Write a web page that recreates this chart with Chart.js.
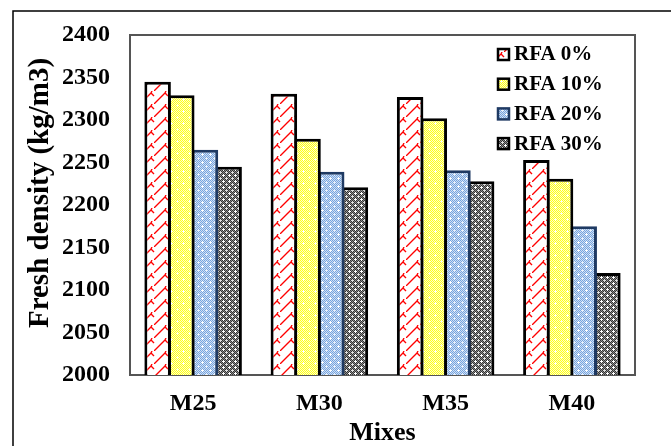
<!DOCTYPE html>
<html>
<head>
<meta charset="utf-8">
<script src="https://cdn.jsdelivr.net/npm/chart.js@4/dist/chart.umd.min.js"></script>
<style>
  html, body { margin: 0; padding: 0; background: #fff; }
  #wrap { width: 671px; height: 446px; }
</style>
</head>
<body>
<div id="wrap"><canvas id="c" width="671" height="446"></canvas></div>
<script>
// Fresh density of mixes by recycled fine aggregate (RFA) replacement
const mixes = ['M25', 'M30', 'M35', 'M40'];
const seriesLabels = ['RFA 0%', 'RFA 10%', 'RFA 20%', 'RFA 30%'];
const rfa0  = [2345, 2331, 2327, 2253];
const rfa10 = [2329, 2278, 2302, 2231];
const rfa20 = [2265, 2239, 2241, 2175];
const rfa30 = [2245, 2221, 2228, 2120];
const yMin = 2000, yMax = 2400, yStep = 50;
const yTitle = 'Fresh density (kg/m3)';
const xTitle = 'Mixes';

const FONT = "'Liberation Serif', 'Times New Roman', serif";

// small repeating tiles used as bar fills
function tile(w, h, paint) {
  const cv = document.createElement('canvas');
  cv.width = w; cv.height = h;
  const g = cv.getContext('2d');
  paint(g, w, h);
  return document.getElementById('c').getContext('2d').createPattern(cv, 'repeat');
}
function checker(g, w, h, a, b, s) {
  for (let y = 0; y < h; y += s)
    for (let x = 0; x < w; x += s) {
      g.fillStyle = ((x / s + y / s) % 2) ? b : a;
      g.fillRect(x, y, s, s);
    }
}
function star(g, cx, cy, col) {
  g.fillStyle = col;
  g.fillRect(cx - 1, cy, 3, 1);
  g.fillRect(cx, cy - 1, 1, 3);
}

const shingleRed = tile(14, 13, (g, w, h) => {
  g.fillStyle = '#ffffff'; g.fillRect(0, 0, w, h);
  g.strokeStyle = '#ff0000'; g.lineWidth = 1.4;
  g.beginPath();
  g.moveTo(-1, 14); g.lineTo(11, 2); g.lineTo(14, 5);
  g.moveTo(11, 2); g.lineTo(12, 0);
  g.moveTo(0, 5); g.lineTo(-1, 4);
  g.stroke();
});
const dotsYellow = tile(12, 12, (g, w, h) => {
  checker(g, w, h, '#ffff1a', '#ffffc8', 1);
  star(g, 3, 3, '#ffffff');
  star(g, 9, 9, '#ffffe8');
});
const dotsBlue = tile(8, 8, (g, w, h) => {
  checker(g, w, h, '#77a4de', '#cfe0f5', 1);
  star(g, 2, 2, '#ffffff');
  star(g, 6, 6, '#eaf1fb');
});
const dotsGray = tile(6, 6, (g, w, h) => {
  checker(g, w, h, '#333333', '#8c8c8c', 1);
  star(g, 1, 1, '#ffffff');
  star(g, 4, 4, '#e0e0e0');
});

const fills = [shingleRed, dotsYellow, dotsBlue, dotsGray];
const edges = ['#000000', '#000000', '#1f3a63', '#000000'];
const values = [rfa0, rfa10, rfa20, rfa30];

const datasets = seriesLabels.map((label, i) => ({
  label,
  data: values[i],
  backgroundColor: fills[i],
  borderColor: edges[i],
  borderWidth: 3,
  borderSkipped: false,
  barPercentage: 1.12,
  categoryPercentage: 0.75
}));

// outer frame, plot frame, vertical axis title and the in-plot legend
const decorations = {
  id: 'decorations',
  beforeDatasetsDraw(chart) {
    const { ctx, chartArea: a } = chart;
    ctx.save();
    ctx.strokeStyle = '#000';
    ctx.lineWidth = 1.5;
    ctx.beginPath();
    ctx.moveTo(13, 446); ctx.lineTo(13, 11); ctx.lineTo(671, 11);
    ctx.stroke();
    ctx.strokeStyle = '#555555';
    ctx.lineWidth = 2;
    ctx.strokeRect(a.left, a.top, a.right - a.left, a.bottom - a.top);

    ctx.translate(41, 193);
    ctx.rotate(-Math.PI / 2);
    ctx.font = 'bold 29px ' + FONT;
    ctx.fillStyle = '#000';
    ctx.textAlign = 'center';
    ctx.textBaseline = 'middle';
    ctx.fillText(yTitle, 0, 0);
    ctx.restore();
  },
  afterDatasetsDraw(chart) {
    const { ctx } = chart;
    ctx.save();
    ctx.font = 'bold 21px ' + FONT;
    ctx.textBaseline = 'middle';
    ctx.textAlign = 'left';
    chart.data.datasets.forEach((ds, i) => {
      const y = 54 + i * 29.7;
      ctx.fillStyle = ds.backgroundColor;
      ctx.fillRect(498, y - 5, 11, 11);
      ctx.strokeStyle = ds.borderColor;
      ctx.lineWidth = 2.5;
      ctx.strokeRect(498, y - 5, 11, 11);
      ctx.fillStyle = '#000';
      ctx.fillText(ds.label, 514, y + 1);
    });
    ctx.restore();
  }
};

new Chart(document.getElementById('c'), {
  type: 'bar',
  data: { labels: mixes, datasets },
  options: {
    responsive: false,
    animation: false,
    devicePixelRatio: 1,
    layout: { padding: { left: 0, top: 35, right: 36, bottom: 0 } },
    plugins: { legend: { display: false }, tooltip: { enabled: false } },
    scales: {
      x: {
        grid: { display: false, drawTicks: false },
        border: { display: false },
        ticks: { color: '#000', font: { family: FONT, size: 24, weight: 'bold' }, padding: 14 },
        title: {
          display: true, text: xTitle, color: '#000',
          font: { family: FONT, size: 26, weight: 'bold', lineHeight: 1 },
          padding: { top: 0, bottom: 0 }
        },
        afterFit(s) { s.height = 71; }
      },
      y: {
        min: yMin, max: yMax,
        grid: { display: false, drawTicks: false },
        border: { display: false },
        ticks: {
          stepSize: yStep, color: '#000', padding: 20,
          font: { family: FONT, size: 24, weight: 'bold' },
          callback: v => String(v)
        },
        afterFit(s) { s.width = 130; }
      }
    }
  },
  plugins: [decorations]
});
</script>
</body>
</html>
